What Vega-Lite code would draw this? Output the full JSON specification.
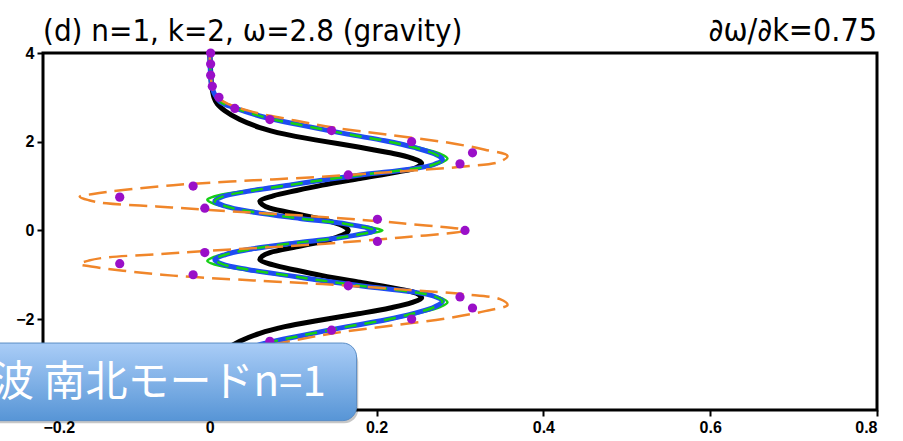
{
  "$schema": "https://vega.github.io/schema/vega-lite/v6.json",
  "width": 834,
  "height": 357,
  "autosize": {"type": "none"},
  "padding": {"left": 43, "top": 53, "right": 26, "bottom": 31},
  "background": "white",
  "config": {
    "view": {"stroke": "black", "strokeWidth": 3},
    "axis": {
      "domain": false, "grid": false, "ticks": true, "tickColor": "black", "tickWidth": 2, "tickSize": 6,
      "labelFont": "Liberation Sans", "labelFontWeight": "bold", "labelFontSize": 16, "labelColor": "black",
      "labelPadding": 3, "title": null
    }
  },
  "datasets": {
    "black": [
      {"y": 4, "x": 0}, {"y": 3.6, "x": 0.001}, {"y": 3.3, "x": 0.002}, {"y": 3.0, "x": 0.005}, {"y": 2.85, "x": 0.009},
      {"y": 2.7, "x": 0.018}, {"y": 2.5, "x": 0.036}, {"y": 2.32, "x": 0.06}, {"y": 2.17, "x": 0.09}, {"y": 2.03, "x": 0.13},
      {"y": 1.88, "x": 0.178}, {"y": 1.75, "x": 0.216}, {"y": 1.63, "x": 0.242}, {"y": 1.52, "x": 0.254}, {"y": 1.42, "x": 0.248},
      {"y": 1.32, "x": 0.226}, {"y": 1.17, "x": 0.18}, {"y": 1.02, "x": 0.135}, {"y": 0.9, "x": 0.104}, {"y": 0.78, "x": 0.076},
      {"y": 0.66, "x": 0.06}, {"y": 0.58, "x": 0.063}, {"y": 0.5, "x": 0.072}, {"y": 0.35, "x": 0.11}, {"y": 0.2, "x": 0.145},
      {"y": 0.08, "x": 0.162}, {"y": 0, "x": 0.166},
      {"y": -0.08, "x": 0.162}, {"y": -0.2, "x": 0.145}, {"y": -0.35, "x": 0.11}, {"y": -0.5, "x": 0.072}, {"y": -0.58, "x": 0.063},
      {"y": -0.66, "x": 0.06}, {"y": -0.78, "x": 0.076}, {"y": -0.9, "x": 0.104}, {"y": -1.02, "x": 0.135}, {"y": -1.17, "x": 0.18},
      {"y": -1.32, "x": 0.226}, {"y": -1.42, "x": 0.248}, {"y": -1.52, "x": 0.254}, {"y": -1.63, "x": 0.242}, {"y": -1.75, "x": 0.216},
      {"y": -1.88, "x": 0.178}, {"y": -2.03, "x": 0.13}, {"y": -2.17, "x": 0.09}, {"y": -2.32, "x": 0.06}, {"y": -2.5, "x": 0.036},
      {"y": -2.7, "x": 0.018}, {"y": -2.85, "x": 0.009}, {"y": -3.0, "x": 0.005}, {"y": -3.3, "x": 0.002}, {"y": -3.6, "x": 0.001}, {"y": -4, "x": 0}
    ],
    "blue": [
      {"y": 4, "x": 0}, {"y": 3.5, "x": 0.001}, {"y": 3.2, "x": 0.003}, {"y": 2.91, "x": 0.012}, {"y": 2.76, "x": 0.03},
      {"y": 2.54, "x": 0.068}, {"y": 2.38, "x": 0.108}, {"y": 2.17, "x": 0.165}, {"y": 2.02, "x": 0.21}, {"y": 1.87, "x": 0.245},
      {"y": 1.72, "x": 0.27}, {"y": 1.6, "x": 0.279}, {"y": 1.48, "x": 0.268}, {"y": 1.38, "x": 0.24}, {"y": 1.26, "x": 0.185},
      {"y": 1.12, "x": 0.13}, {"y": 1.02, "x": 0.095}, {"y": 0.88, "x": 0.045}, {"y": 0.76, "x": 0.015}, {"y": 0.66, "x": 0.006},
      {"y": 0.55, "x": 0.018}, {"y": 0.42, "x": 0.05}, {"y": 0.27, "x": 0.108}, {"y": 0.14, "x": 0.165}, {"y": 0, "x": 0.197},
      {"y": -0.14, "x": 0.165}, {"y": -0.27, "x": 0.108}, {"y": -0.42, "x": 0.05}, {"y": -0.55, "x": 0.018}, {"y": -0.66, "x": 0.006},
      {"y": -0.76, "x": 0.015}, {"y": -0.88, "x": 0.045}, {"y": -1.02, "x": 0.095}, {"y": -1.12, "x": 0.13}, {"y": -1.26, "x": 0.185},
      {"y": -1.38, "x": 0.24}, {"y": -1.48, "x": 0.268}, {"y": -1.6, "x": 0.279}, {"y": -1.72, "x": 0.27}, {"y": -1.87, "x": 0.245},
      {"y": -2.02, "x": 0.21}, {"y": -2.17, "x": 0.165}, {"y": -2.38, "x": 0.108}, {"y": -2.54, "x": 0.068}, {"y": -2.76, "x": 0.03},
      {"y": -2.91, "x": 0.012}, {"y": -3.2, "x": 0.003}, {"y": -3.5, "x": 0.001}, {"y": -4, "x": 0}
    ],
    "green": [
      {"y": 4, "x": 0}, {"y": 3.5, "x": 0.001}, {"y": 3.2, "x": 0.003}, {"y": 2.91, "x": 0.013}, {"y": 2.76, "x": 0.031},
      {"y": 2.54, "x": 0.07}, {"y": 2.38, "x": 0.11}, {"y": 2.17, "x": 0.168}, {"y": 2.02, "x": 0.214}, {"y": 1.87, "x": 0.25},
      {"y": 1.73, "x": 0.276}, {"y": 1.62, "x": 0.285}, {"y": 1.5, "x": 0.274}, {"y": 1.4, "x": 0.245}, {"y": 1.27, "x": 0.188},
      {"y": 1.13, "x": 0.13}, {"y": 1.02, "x": 0.09}, {"y": 0.88, "x": 0.038}, {"y": 0.77, "x": 0.006}, {"y": 0.69, "x": -0.003},
      {"y": 0.6, "x": 0.005}, {"y": 0.48, "x": 0.035}, {"y": 0.33, "x": 0.09}, {"y": 0.18, "x": 0.15}, {"y": 0.06, "x": 0.195}, {"y": 0, "x": 0.207},
      {"y": -0.06, "x": 0.195}, {"y": -0.18, "x": 0.15}, {"y": -0.33, "x": 0.09}, {"y": -0.48, "x": 0.035}, {"y": -0.6, "x": 0.005},
      {"y": -0.69, "x": -0.003}, {"y": -0.77, "x": 0.006}, {"y": -0.88, "x": 0.038}, {"y": -1.02, "x": 0.09}, {"y": -1.13, "x": 0.13},
      {"y": -1.27, "x": 0.188}, {"y": -1.4, "x": 0.245}, {"y": -1.5, "x": 0.274}, {"y": -1.62, "x": 0.285}, {"y": -1.73, "x": 0.276},
      {"y": -1.87, "x": 0.25}, {"y": -2.02, "x": 0.214}, {"y": -2.17, "x": 0.168}, {"y": -2.38, "x": 0.11}, {"y": -2.54, "x": 0.07},
      {"y": -2.76, "x": 0.031}, {"y": -2.91, "x": 0.013}, {"y": -3.2, "x": 0.003}, {"y": -3.5, "x": 0.001}, {"y": -4, "x": 0}
    ],
    "orange": [
      {"y": 4, "x": 0}, {"y": 3.5, "x": 0.001}, {"y": 3.12, "x": 0.005}, {"y": 2.91, "x": 0.016}, {"y": 2.69, "x": 0.048},
      {"y": 2.5, "x": 0.096}, {"y": 2.32, "x": 0.148}, {"y": 2.16, "x": 0.212}, {"y": 1.98, "x": 0.285}, {"y": 1.82, "x": 0.33},
      {"y": 1.68, "x": 0.357}, {"y": 1.55, "x": 0.348}, {"y": 1.44, "x": 0.305}, {"y": 1.33, "x": 0.228}, {"y": 1.21, "x": 0.135},
      {"y": 1.15, "x": 0.075}, {"y": 1.1, "x": 0.025}, {"y": 1.02, "x": -0.044}, {"y": 0.91, "x": -0.104}, {"y": 0.82, "x": -0.14},
      {"y": 0.76, "x": -0.156}, {"y": 0.68, "x": -0.145}, {"y": 0.61, "x": -0.124}, {"y": 0.54, "x": -0.064}, {"y": 0.46, "x": 0.0},
      {"y": 0.31, "x": 0.13}, {"y": 0.16, "x": 0.23}, {"y": 0, "x": 0.306},
      {"y": -0.16, "x": 0.23}, {"y": -0.31, "x": 0.13}, {"y": -0.46, "x": 0.0}, {"y": -0.54, "x": -0.064}, {"y": -0.61, "x": -0.124},
      {"y": -0.68, "x": -0.145}, {"y": -0.76, "x": -0.156}, {"y": -0.82, "x": -0.14}, {"y": -0.91, "x": -0.104}, {"y": -1.02, "x": -0.044},
      {"y": -1.1, "x": 0.025}, {"y": -1.15, "x": 0.075}, {"y": -1.21, "x": 0.135}, {"y": -1.33, "x": 0.228}, {"y": -1.44, "x": 0.305},
      {"y": -1.55, "x": 0.348}, {"y": -1.68, "x": 0.357}, {"y": -1.82, "x": 0.33}, {"y": -1.98, "x": 0.285}, {"y": -2.16, "x": 0.212},
      {"y": -2.32, "x": 0.148}, {"y": -2.5, "x": 0.096}, {"y": -2.69, "x": 0.048}, {"y": -2.91, "x": 0.016}, {"y": -3.12, "x": 0.005},
      {"y": -3.5, "x": 0.001}, {"y": -4, "x": 0}
    ],
    "dots": [
      {"y": 4, "x": 0.001}, {"y": 3.75, "x": 0.001}, {"y": 3.5, "x": 0.001}, {"y": 3.25, "x": 0.003}, {"y": 3.0, "x": 0.011},
      {"y": 2.75, "x": 0.03}, {"y": 2.5, "x": 0.072}, {"y": 2.25, "x": 0.146}, {"y": 2.0, "x": 0.242}, {"y": 1.75, "x": 0.315},
      {"y": 1.5, "x": 0.3}, {"y": 1.25, "x": 0.166}, {"y": 1.0, "x": -0.02}, {"y": 0.75, "x": -0.108}, {"y": 0.5, "x": -0.006},
      {"y": 0.25, "x": 0.201}, {"y": 0, "x": 0.306}, {"y": -0.25, "x": 0.201}, {"y": -0.5, "x": -0.006}, {"y": -0.75, "x": -0.108},
      {"y": -1.0, "x": -0.02}, {"y": -1.25, "x": 0.166}, {"y": -1.5, "x": 0.3}, {"y": -1.75, "x": 0.315}, {"y": -2.0, "x": 0.242},
      {"y": -2.25, "x": 0.146}, {"y": -2.5, "x": 0.072}, {"y": -2.75, "x": 0.03}, {"y": -3.0, "x": 0.011}, {"y": -3.25, "x": 0.003},
      {"y": -3.5, "x": 0.001}, {"y": -3.75, "x": 0.001}, {"y": -4, "x": 0.001}
    ]
  },
  "encoding": {
    "x": {"field": "x", "type": "quantitative",
      "scale": {"domain": [-0.2, 0.8], "nice": false, "zero": false},
      "axis": {"values": [-0.2, 0, 0.2, 0.4, 0.6, 0.8], "format": "~g", "orient": "bottom"}},
    "y": {"field": "y", "type": "quantitative",
      "scale": {"domain": [-4.05, 4], "nice": false, "zero": false},
      "axis": {"values": [-4, -2, 0, 2, 4], "format": "d", "orient": "left"}}
  },
  "layer": [
    {"data": {"name": "black"}, "mark": {"type": "line", "color": "black", "strokeWidth": 5, "interpolate": "catmull-rom"},
     "encoding": {"order": {"field": "y", "type": "quantitative"}}},
    {"data": {"name": "green"}, "mark": {"type": "line", "color": "#16d016", "strokeWidth": 2.5, "interpolate": "catmull-rom"},
     "encoding": {"order": {"field": "y", "type": "quantitative"}}},
    {"data": {"name": "blue"}, "mark": {"type": "line", "color": "#1f4cf2", "strokeWidth": 5, "interpolate": "catmull-rom"},
     "encoding": {"order": {"field": "y", "type": "quantitative"}}},
    {"data": {"name": "blue"}, "mark": {"type": "line", "color": "#16d016", "strokeWidth": 2.5, "strokeDash": [12, 8], "interpolate": "catmull-rom"},
     "encoding": {"order": {"field": "y", "type": "quantitative"}}},
    {"data": {"name": "orange"}, "mark": {"type": "line", "color": "#f0862a", "strokeWidth": 2.5, "strokeDash": [18, 8], "interpolate": "catmull-rom"},
     "encoding": {"order": {"field": "y", "type": "quantitative"}}},
    {"data": {"name": "dots"}, "mark": {"type": "point", "filled": true, "color": "#9a0fc8", "opacity": 1, "size": 85}},
    {"data": {"values": [{"x": -0.2, "y": 4, "label": "(d) n=1, k=2, ω=2.8 (gravity)"}]},
     "mark": {"type": "text", "align": "left", "baseline": "alphabetic", "dy": -12, "fontSize": 31, "font": "DejaVu Sans Condensed, DejaVu Sans", "color": "black"},
     "encoding": {"text": {"field": "label"}}},
    {"data": {"values": [{"x": 0.8, "y": 4, "label": "∂ω/∂k=0.75"}]},
     "mark": {"type": "text", "align": "right", "baseline": "alphabetic", "dy": -12, "fontSize": 32, "font": "DejaVu Sans Condensed, DejaVu Sans", "color": "black"},
     "encoding": {"text": {"field": "label"}}},
    {"data": {"values": [{"x": -0.5, "x2": 0.178, "y": -2.59, "y2": -4.35}]},
     "mark": {"type": "rect", "color": "black", "opacity": 0.22, "cornerRadius": 14, "xOffset": 2, "yOffset": 3},
     "encoding": {"x2": {"field": "x2"}, "y2": {"field": "y2"}}},
    {"data": {"values": [{"x": -0.5, "x2": 0.176, "y": -2.54, "y2": -4.29}]},
     "mark": {"type": "rect", "cornerRadius": 14, "stroke": "#5a8dc6", "strokeWidth": 1, "opacity": 1,
       "fill": {"gradient": "linear", "x1": 0, "y1": 0, "x2": 0, "y2": 1,
         "stops": [{"offset": 0, "color": "#aacdf7"}, {"offset": 1, "color": "#5795d6"}]}},
     "encoding": {"x2": {"field": "x2"}, "y2": {"field": "y2"}}},
    {"data": {"values": [{"x": 0.139, "y": -3.44, "label": "波 南北モードn=1"}]},
     "mark": {"type": "text", "align": "right", "baseline": "middle", "fontSize": 42, "font": "Noto Sans CJK JP", "color": "white"},
     "encoding": {"text": {"field": "label"}}}
  ]
}
